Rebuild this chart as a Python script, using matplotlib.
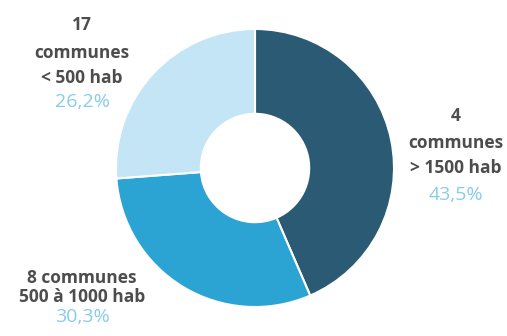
import matplotlib.pyplot as plt

# part des communes par tranche de population
label_lines = [["4", "communes", "> 1500 hab"],
               ["8 communes", "500 à 1000 hab"],
               ["17", "communes", "< 500 hab"]]
shares = [43.5, 30.3, 26.2]
pct_labels = ["43,5%", "30,3%", "26,2%"]
colors = ["#2b5b74", "#2ba3d3", "#c4e5f5"]

W, H = 507, 336
fig = plt.figure(figsize=(W / 100, H / 100), dpi=100)
plt.rcParams["font.family"] = ["Open Sans", "DejaVu Sans"]

# donut: centre ~ (255, 168) px, radius ~138 px
r = 139
ax = fig.add_axes([(255 - r) / W, (H - 168 - r) / H, 2 * r / W, 2 * r / H])
ax.pie(shares, colors=colors, startangle=90, counterclock=False,
       wedgeprops=dict(width=0.61, edgecolor="white", linewidth=1.5))
ax.set_aspect("equal")
ax.set_xlim(-1, 1)
ax.set_ylim(-1, 1)

TXT = "#4d4d4d"
PCT = "#86cdea"
# (x centre, y of each line centre) in pixels
label_x = [456, 82, 82]
label_y = [[114, 141, 166], [276, 295], [23, 51, 76]]
pct_y = [193, 315, 100]
for lines, x, ys, p, py in zip(label_lines, label_x, label_y, pct_labels, pct_y):
    for line, y in zip(lines, ys):
        fig.text(x / W, 1 - y / H, line, ha="center", va="center_baseline",
                 fontsize=12.5, weight="bold", color=TXT)
    fig.text(x / W, 1 - py / H, p, ha="center", va="center_baseline",
             fontsize=14, color=PCT)

fig.savefig("out.png", dpi=100)
